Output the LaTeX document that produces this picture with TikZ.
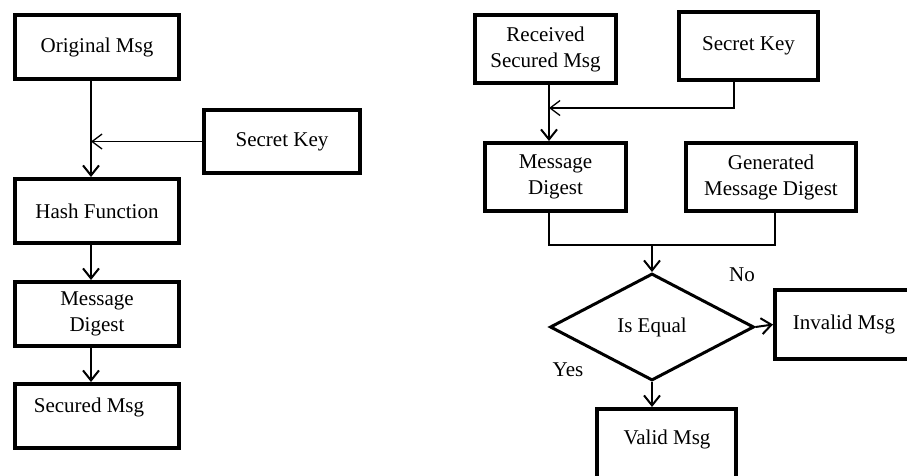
\documentclass[tikz,border=0pt]{standalone}
\usepackage{fontspec}
\setmainfont{Liberation Serif}
\usetikzlibrary{arrows.meta,shapes.geometric,calc}
\begin{document}
\begin{tikzpicture}[x=1pt,y=-1pt,
 font=\fontsize{21}{26}\selectfont,
 box/.style={draw,line width=4pt,inner sep=0pt,align=center},
 dia/.style={draw,diamond,line width=3pt,inner sep=0pt,minimum width=204pt,minimum height=107pt},
 conn/.style={line width=2pt},
 thinline/.style={line width=1.3pt},
 arr/.style={conn,-{Straight Barb[length=10pt,width=16pt]}},
 thinarr/.style={thinline,-{Straight Barb[length=10pt,width=15pt]}},
 txt/.style={inner sep=0pt}]
\useasboundingbox (0,0) rectangle (907,475);
% left flow
\node[box,minimum width=164pt,minimum height=64pt] (om) at (97,47) {Original Msg};
\node[box,minimum width=164pt,minimum height=64pt] (hf) at (97,211) {Hash Function};
\node[box,minimum width=164pt,minimum height=64pt] (md) at (97,314) {Message\\Digest};
\node[box,minimum width=164pt,minimum height=64pt] (sm) at (97,416) {};
\node[txt] (smt) at (89,407) {Secured Msg};
\node[box,minimum width=156pt,minimum height=63pt] (sk) at (282,141.5) {Secret Key};
\coordinate (xl) at (91,0);
\draw[arr] (om.south -| xl) -- (hf.north -| xl);
\draw[thinarr] (sk.west) -- (sk.west -| xl);
\draw[arr] (hf.south -| xl) -- (md.north -| xl);
\draw[arr] (md.south -| xl) -- (sm.north -| xl);
% right flow
\node[box,minimum width=141pt,minimum height=68pt] (rsm) at (545.5,49) {Received\\Secured Msg};
\node[box,minimum width=139pt,minimum height=68pt] (sk2) at (748.5,46) {Secret Key};
\node[box,minimum width=141pt,minimum height=68pt] (md2) at (555.5,177) {Message\\Digest};
\node[box,minimum width=170pt,minimum height=68pt] (gmd) at (771,177) {Generated\\Message Digest};
\node[dia] (eq) at (652,327) {Is Equal};
\node[box,minimum width=138pt,minimum height=69pt] (inv) at (844,324.5) {Invalid Msg};
\node[box,minimum width=139pt,minimum height=79pt] (val) at (666.5,448.5) {};
\node[txt] (valt) at (667,439) {Valid Msg};
\node[txt] (no) at (742,275) {No};
\node[txt] (yes) at (568,370) {Yes};
\coordinate (xr) at (549,0);
\coordinate (xg) at (775,0);
\coordinate (kj) at (734,108);
\coordinate (mj) at (652,245);
\draw[arr] (rsm.south -| xr) -- (md2.north -| xr);
\draw[thinarr] (sk2.south -| kj) -- (kj) -- (kj -| xr);
\draw[thinline] (md2.south -| xr) |- (mj) -| (gmd.south -| xg);
\draw[arr] (mj) -- (eq.north);
\draw[arr] (eq.east) -- (inv.west);
\draw[arr] (eq.south) -- (eq.south |- val.north);
\end{tikzpicture}
\end{document}
